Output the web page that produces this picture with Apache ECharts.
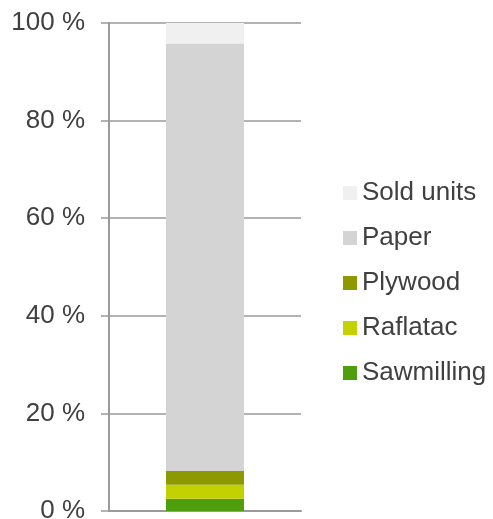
<!DOCTYPE html>
<html>
<head>
<meta charset="utf-8">
<script src="https://cdn.jsdelivr.net/npm/echarts@6/dist/echarts.min.js"></script>
<style>
  html, body { margin: 0; padding: 0; background: #fff; }
  #chart { width: 493px; height: 519px; }
</style>
</head>
<body>
<div id="chart"></div>
<script>
// Share of each business area, stacked to 100 %
const categories = [''];
const seriesNames = ['Sawmilling', 'Raflatac', 'Plywood', 'Paper', 'Sold units'];
const sawmilling = [2.5];
const raflatac = [2.9];
const plywood = [2.8];
const paper = [87.6];
const soldUnits = [4.2];
const yTicks = [0, 20, 40, 60, 80, 100];
const legendOrder = ['Sold units', 'Paper', 'Plywood', 'Raflatac', 'Sawmilling'];

const colors = {
  'Sawmilling': '#4f9e0e',
  'Raflatac': '#c3d100',
  'Plywood': '#8c9a00',
  'Paper': '#d4d4d4',
  'Sold units': '#f0f0f0'
};
const values = [sawmilling, raflatac, plywood, paper, soldUnits];

const axisGrey = '#9a9a9a';
const textColor = '#404040';
const fontFamily = 'Liberation Sans, Arial, sans-serif';

const chart = echarts.init(document.getElementById('chart'), null, { renderer: 'canvas' });

chart.setOption({
  animation: false,
  backgroundColor: '#ffffff',
  grid: { left: 109, right: 192, top: 23, bottom: 8, containLabel: false, outerBoundsMode: 'none' },
  legend: {
    data: legendOrder,
    orient: 'vertical',
    left: 343,
    top: 180,
    padding: 0,
    itemWidth: 14,
    itemHeight: 14,
    itemGap: 19,
    icon: 'rect',
    textStyle: { color: textColor, fontSize: 26, fontFamily: fontFamily, lineHeight: 26 },
    selectedMode: false
  },
  xAxis: {
    type: 'category',
    data: categories,
    axisLine: { show: true, lineStyle: { color: axisGrey, width: 2 } },
    axisTick: { show: false },
    axisLabel: { show: false },
    splitLine: { show: false }
  },
  yAxis: {
    type: 'value',
    min: yTicks[0],
    max: yTicks[yTicks.length - 1],
    interval: yTicks[1] - yTicks[0],
    axisLine: { show: true, lineStyle: { color: axisGrey, width: 2 } },
    axisTick: { show: true, inside: false, length: 8, lineStyle: { color: axisGrey, width: 1.5 } },
    axisLabel: {
      formatter: '{value} %',
      color: textColor,
      fontSize: 26,
      fontFamily: fontFamily,
      margin: 24
    },
    splitLine: { show: true, lineStyle: { color: axisGrey, width: 1.5 } }
  },
  series: seriesNames.map((name, i) => ({
    name: name,
    type: 'bar',
    stack: 'total',
    barWidth: 78,
    data: values[i],
    itemStyle: { color: colors[name] },
    emphasis: { disabled: true }
  }))
});
</script>
</body>
</html>
